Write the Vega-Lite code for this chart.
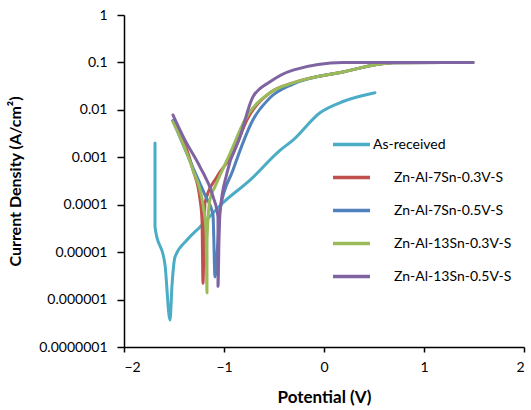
{
  "$schema": "https://vega.github.io/schema/vega-lite/v6.json",
  "width": 400,
  "height": 332,
  "autosize": "none",
  "padding": {"left": 124, "top": 15, "right": 7, "bottom": 63},
  "background": "white",
  "config": {
    "view": {"stroke": null},
    "font": "Lato",
    "axis": {"grid": false, "domainColor": "black", "tickColor": "black", "labelColor": "black", "titleColor": "black", "labelFont": "Lato", "titleFont": "Lato", "domainWidth": 1.5, "tickWidth": 1.5}
  },
  "data": {
    "values": [
      {"s": "As-received", "o": 1, "V": -1.69, "I": 0.002},
      {"s": "As-received", "o": 2, "V": -1.69, "I": 0.000034},
      {"s": "As-received", "o": 3, "V": -1.59, "I": 0.0000054},
      {"s": "As-received", "o": 4, "V": -1.54, "I": 0.00000037},
      {"s": "As-received", "o": 5, "V": -1.52, "I": 0.000002},
      {"s": "As-received", "o": 6, "V": -1.49, "I": 0.0000079},
      {"s": "As-received", "o": 7, "V": -1.37, "I": 0.000018},
      {"s": "As-received", "o": 8, "V": -1.24, "I": 0.000034},
      {"s": "As-received", "o": 9, "V": -1.01, "I": 0.00011},
      {"s": "As-received", "o": 10, "V": -0.74, "I": 0.00033},
      {"s": "As-received", "o": 11, "V": -0.44, "I": 0.0014},
      {"s": "As-received", "o": 12, "V": -0.31, "I": 0.0023},
      {"s": "As-received", "o": 13, "V": -0.04, "I": 0.0087},
      {"s": "As-received", "o": 14, "V": 0.19, "I": 0.015},
      {"s": "As-received", "o": 15, "V": 0.51, "I": 0.023},

      {"s": "Zn-Al-7Sn-0.3V-S", "o": 1, "V": -1.51, "I": 0.0059},
      {"s": "Zn-Al-7Sn-0.3V-S", "o": 2, "V": -1.47, "I": 0.0044},
      {"s": "Zn-Al-7Sn-0.3V-S", "o": 3, "V": -1.31, "I": 0.00054},
      {"s": "Zn-Al-7Sn-0.3V-S", "o": 4, "V": -1.24, "I": 0.00013},
      {"s": "Zn-Al-7Sn-0.3V-S", "o": 5, "V": -1.22, "I": 0.000048},
      {"s": "Zn-Al-7Sn-0.3V-S", "o": 6, "V": -1.21, "I": 0.0000022},
      {"s": "Zn-Al-7Sn-0.3V-S", "o": 7, "V": -1.20, "I": 0.000018},
      {"s": "Zn-Al-7Sn-0.3V-S", "o": 8, "V": -1.19, "I": 0.00011},
      {"s": "Zn-Al-7Sn-0.3V-S", "o": 9, "V": -1.07, "I": 0.00039},
      {"s": "Zn-Al-7Sn-0.3V-S", "o": 10, "V": -0.91, "I": 0.0012},
      {"s": "Zn-Al-7Sn-0.3V-S", "o": 11, "V": -0.77, "I": 0.0062},
      {"s": "Zn-Al-7Sn-0.3V-S", "o": 12, "V": -0.54, "I": 0.023},
      {"s": "Zn-Al-7Sn-0.3V-S", "o": 13, "V": -0.31, "I": 0.037},
      {"s": "Zn-Al-7Sn-0.3V-S", "o": 14, "V": 0.19, "I": 0.063},
      {"s": "Zn-Al-7Sn-0.3V-S", "o": 15, "V": 0.69, "I": 0.098},
      {"s": "Zn-Al-7Sn-0.3V-S", "o": 16, "V": 1.49, "I": 0.1},

      {"s": "Zn-Al-7Sn-0.5V-S", "o": 1, "V": -1.51, "I": 0.0059},
      {"s": "Zn-Al-7Sn-0.5V-S", "o": 2, "V": -1.31, "I": 0.0006},
      {"s": "Zn-Al-7Sn-0.5V-S", "o": 3, "V": -1.19, "I": 0.00016},
      {"s": "Zn-Al-7Sn-0.5V-S", "o": 4, "V": -1.11, "I": 0.000061},
      {"s": "Zn-Al-7Sn-0.5V-S", "o": 5, "V": -1.09, "I": 0.000003},
      {"s": "Zn-Al-7Sn-0.5V-S", "o": 6, "V": -1.06, "I": 0.000018},
      {"s": "Zn-Al-7Sn-0.5V-S", "o": 7, "V": -1.04, "I": 0.000078},
      {"s": "Zn-Al-7Sn-0.5V-S", "o": 8, "V": -0.91, "I": 0.00054},
      {"s": "Zn-Al-7Sn-0.5V-S", "o": 9, "V": -0.71, "I": 0.0062},
      {"s": "Zn-Al-7Sn-0.5V-S", "o": 10, "V": -0.54, "I": 0.018},
      {"s": "Zn-Al-7Sn-0.5V-S", "o": 11, "V": -0.31, "I": 0.035},
      {"s": "Zn-Al-7Sn-0.5V-S", "o": 12, "V": 0.19, "I": 0.063},
      {"s": "Zn-Al-7Sn-0.5V-S", "o": 13, "V": 0.69, "I": 0.098},
      {"s": "Zn-Al-7Sn-0.5V-S", "o": 14, "V": 1.49, "I": 0.1},

      {"s": "Zn-Al-13Sn-0.3V-S", "o": 1, "V": -1.51, "I": 0.0056},
      {"s": "Zn-Al-13Sn-0.3V-S", "o": 2, "V": -1.31, "I": 0.00054},
      {"s": "Zn-Al-13Sn-0.3V-S", "o": 3, "V": -1.21, "I": 0.0001},
      {"s": "Zn-Al-13Sn-0.3V-S", "o": 4, "V": -1.18, "I": 0.000029},
      {"s": "Zn-Al-13Sn-0.3V-S", "o": 5, "V": -1.17, "I": 0.0000014},
      {"s": "Zn-Al-13Sn-0.3V-S", "o": 6, "V": -1.17, "I": 0.000018},
      {"s": "Zn-Al-13Sn-0.3V-S", "o": 7, "V": -1.14, "I": 0.00013},
      {"s": "Zn-Al-13Sn-0.3V-S", "o": 8, "V": -1.09, "I": 0.00024},
      {"s": "Zn-Al-13Sn-0.3V-S", "o": 9, "V": -0.94, "I": 0.0012},
      {"s": "Zn-Al-13Sn-0.3V-S", "o": 10, "V": -0.79, "I": 0.0062},
      {"s": "Zn-Al-13Sn-0.3V-S", "o": 11, "V": -0.54, "I": 0.023},
      {"s": "Zn-Al-13Sn-0.3V-S", "o": 12, "V": -0.31, "I": 0.037},
      {"s": "Zn-Al-13Sn-0.3V-S", "o": 13, "V": 0.19, "I": 0.063},
      {"s": "Zn-Al-13Sn-0.3V-S", "o": 14, "V": 0.69, "I": 0.098},
      {"s": "Zn-Al-13Sn-0.3V-S", "o": 15, "V": 1.49, "I": 0.1},

      {"s": "Zn-Al-13Sn-0.5V-S", "o": 1, "V": -1.51, "I": 0.0078},
      {"s": "Zn-Al-13Sn-0.5V-S", "o": 2, "V": -1.39, "I": 0.0023},
      {"s": "Zn-Al-13Sn-0.5V-S", "o": 3, "V": -1.24, "I": 0.00063},
      {"s": "Zn-Al-13Sn-0.5V-S", "o": 4, "V": -1.11, "I": 0.00015},
      {"s": "Zn-Al-13Sn-0.5V-S", "o": 5, "V": -1.06, "I": 0.000055},
      {"s": "Zn-Al-13Sn-0.5V-S", "o": 6, "V": -1.06, "I": 0.0000019},
      {"s": "Zn-Al-13Sn-0.5V-S", "o": 7, "V": -1.05, "I": 0.000018},
      {"s": "Zn-Al-13Sn-0.5V-S", "o": 8, "V": -1.04, "I": 0.000068},
      {"s": "Zn-Al-13Sn-0.5V-S", "o": 9, "V": -0.97, "I": 0.00047},
      {"s": "Zn-Al-13Sn-0.5V-S", "o": 10, "V": -0.84, "I": 0.0027},
      {"s": "Zn-Al-13Sn-0.5V-S", "o": 11, "V": -0.71, "I": 0.019},
      {"s": "Zn-Al-13Sn-0.5V-S", "o": 12, "V": -0.54, "I": 0.039},
      {"s": "Zn-Al-13Sn-0.5V-S", "o": 13, "V": -0.31, "I": 0.069},
      {"s": "Zn-Al-13Sn-0.5V-S", "o": 14, "V": 0.19, "I": 0.1},
      {"s": "Zn-Al-13Sn-0.5V-S", "o": 15, "V": 1.49, "I": 0.1}
    ]
  },
  "mark": {"type": "line", "strokeWidth": 3, "interpolate": "monotone", "strokeCap": "round", "strokeJoin": "round"},
  "encoding": {
    "x": {
      "field": "V", "type": "quantitative",
      "scale": {"domain": [-2, 2], "nice": false, "zero": false},
      "axis": {"values": [-2, -1, 0, 1, 2], "format": "d", "title": "Potential (V)", "titleFontSize": 17, "titleFontWeight": "bold", "titleY": 50, "titleBaseline": "middle", "labelFontSize": 14, "labelPadding": 8, "tickSize": 5}
    },
    "y": {
      "field": "I", "type": "quantitative",
      "scale": {"type": "log", "domain": [1e-7, 1], "nice": false},
      "axis": {"values": [1e-7, 1e-6, 1e-5, 1e-4, 1e-3, 1e-2, 1e-1, 1], "format": ".7~f", "title": "Current Density (A/cm²)", "titleFontSize": 16, "titleFontWeight": "bold", "titleX": -109, "titleY": 166, "titleAngle": -90, "titleAlign": "center", "titleBaseline": "middle", "labelFontSize": 14, "labelPadding": 10, "tickSize": 7}
    },
    "color": {
      "field": "s", "type": "nominal",
      "scale": {"domain": ["As-received", "Zn-Al-7Sn-0.3V-S", "Zn-Al-7Sn-0.5V-S", "Zn-Al-13Sn-0.3V-S", "Zn-Al-13Sn-0.5V-S"], "range": ["#4BACC6", "#C0504D", "#4F81BD", "#9BBB59", "#8064A2"]},
      "legend": {"title": null, "orient": "none", "legendX": 207, "legendY": 109, "symbolType": "stroke", "symbolSize": 1369, "symbolStrokeWidth": 3.5, "labelFontSize": 14, "labelOffset": 1, "rowPadding": 5, "labelColor": "black",
        "labelExpr": "datum.label == 'As-received' ? datum.label : '\u200B\u2003\u2003' + datum.label"}
    },
    "detail": {"field": "s"},
    "order": {"field": "o", "type": "quantitative"}
  }
}
